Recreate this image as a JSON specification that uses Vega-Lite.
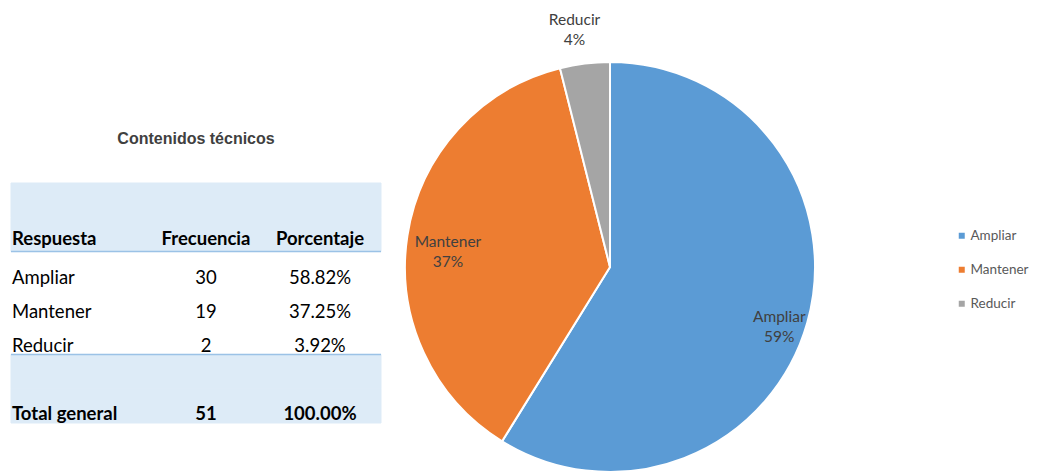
{
  "$schema": "https://vega.github.io/schema/vega-lite/v6.json",
  "background": "white",
  "padding": {"left": 10, "top": 0, "right": 0, "bottom": 0},
  "spacing": 0,
  "bounds": "flush",
  "config": {"view": {"stroke": null}, "font": "Lato"},
  "datasets": {
    "tabla": [
      {"Respuesta": "Ampliar", "Frecuencia": 30, "Porcentaje": 0.5882},
      {"Respuesta": "Mantener", "Frecuencia": 19, "Porcentaje": 0.3725},
      {"Respuesta": "Reducir", "Frecuencia": 2, "Porcentaje": 0.0392},
      {"Respuesta": "Total general", "Frecuencia": 51, "Porcentaje": 1.0}
    ]
  },
  "hconcat": [
    {
      "width": 370,
      "height": 472,
      "layer": [
        {
          "data": {"values": [{"fila": "b1"}, {"fila": "encabezado"}, {"fila": "b2"}, {"fila": "Total general"}]},
          "mark": {"type": "rect", "color": "#DDEBF7", "stroke": "#DDEBF7", "strokeWidth": 1},
          "encoding": {
            "y": {"field": "fila", "type": "nominal", "axis": null,
                  "scale": {"domain": ["b1", "encabezado", "Ampliar", "Mantener", "Reducir", "b2", "Total general"], "range": [183, 423], "paddingInner": 0, "paddingOuter": 0}}
          }
        },
        {
          "data": {"values": [{"fila": "Ampliar"}, {"fila": "b2"}]},
          "mark": {"type": "rule", "color": "#9BC2E6", "strokeWidth": 1.5},
          "encoding": {
            "y": {"field": "fila", "type": "nominal", "bandPosition": 0, "axis": null,
                  "scale": {"domain": ["b1", "encabezado", "Ampliar", "Mantener", "Reducir", "b2", "Total general"], "range": [183, 423], "paddingInner": 0, "paddingOuter": 0}}
          }
        },
        {
          "data": {"values": [{"titulo": "Contenidos técnicos"}]},
          "mark": {"type": "text", "font": "Liberation Sans", "fontSize": 16, "fontWeight": "bold", "color": "#404040", "dy": -61},
          "encoding": {
            "y": {"datum": "b1", "axis": null,
                  "scale": {"domain": ["b1", "encabezado", "Ampliar", "Mantener", "Reducir", "b2", "Total general"], "range": [183, 423], "paddingInner": 0, "paddingOuter": 0}},
            "text": {"field": "titulo", "type": "nominal"}
          }
        },
        {
          "data": {"values": [{"col": "Respuesta"}, {"col": "Frecuencia"}, {"col": "Porcentaje"}]},
          "encoding": {
            "y": {"datum": "encabezado", "axis": null,
                  "scale": {"domain": ["b1", "encabezado", "Ampliar", "Mantener", "Reducir", "b2", "Total general"], "range": [183, 423], "paddingInner": 0, "paddingOuter": 0}},
            "x": {"field": "col", "type": "nominal", "axis": null,
                  "scale": {"domain": ["Respuesta", "Frecuencia", "Porcentaje"], "range": [81, 309], "padding": 0}},
            "text": {"field": "col", "type": "nominal"}
          },
          "layer": [
            {
              "transform": [{"filter": "datum.col === 'Respuesta'"}],
              "mark": {"type": "text", "align": "left", "dx": -80, "dy": 5, "fontSize": 18.5, "fontWeight": "bold", "color": "black"}
            },
            {
              "transform": [{"filter": "datum.col !== 'Respuesta'"}],
              "mark": {"type": "text", "align": "center", "dy": 5, "fontSize": 18.5, "fontWeight": "bold", "color": "black"}
            }
          ]
        },
        {
          "data": {"name": "tabla"},
          "transform": [{"filter": "datum.Respuesta !== 'Total general'"}],
          "encoding": {
            "y": {"field": "Respuesta", "type": "nominal", "axis": null,
                  "scale": {"domain": ["b1", "encabezado", "Ampliar", "Mantener", "Reducir", "b2", "Total general"], "range": [183, 423], "paddingInner": 0, "paddingOuter": 0}}
          },
          "layer": [
            {
              "mark": {"type": "text", "align": "left", "dx": -80, "dy": 9, "fontSize": 18.5, "color": "black"},
              "encoding": {
                "x": {"datum": "Respuesta", "axis": null, "scale": {"domain": ["Respuesta", "Frecuencia", "Porcentaje"], "range": [81, 309], "padding": 0}},
                "text": {"field": "Respuesta", "type": "nominal"}
              }
            },
            {
              "mark": {"type": "text", "align": "center", "dy": 9, "fontSize": 18.5, "color": "black"},
              "encoding": {
                "x": {"datum": "Frecuencia", "axis": null, "scale": {"domain": ["Respuesta", "Frecuencia", "Porcentaje"], "range": [81, 309], "padding": 0}},
                "text": {"field": "Frecuencia", "type": "quantitative"}
              }
            },
            {
              "mark": {"type": "text", "align": "center", "dy": 9, "fontSize": 18.5, "color": "black"},
              "encoding": {
                "x": {"datum": "Porcentaje", "axis": null, "scale": {"domain": ["Respuesta", "Frecuencia", "Porcentaje"], "range": [81, 309], "padding": 0}},
                "text": {"field": "Porcentaje", "type": "quantitative", "format": ".2%"}
              }
            }
          ]
        },
        {
          "data": {"name": "tabla"},
          "transform": [{"filter": "datum.Respuesta === 'Total general'"}],
          "encoding": {
            "y": {"field": "Respuesta", "type": "nominal", "axis": null,
                  "scale": {"domain": ["b1", "encabezado", "Ampliar", "Mantener", "Reducir", "b2", "Total general"], "range": [183, 423], "paddingInner": 0, "paddingOuter": 0}}
          },
          "layer": [
            {
              "mark": {"type": "text", "align": "left", "dx": -80, "dy": 8, "fontSize": 18.5, "fontWeight": "bold", "color": "black"},
              "encoding": {
                "x": {"datum": "Respuesta", "axis": null, "scale": {"domain": ["Respuesta", "Frecuencia", "Porcentaje"], "range": [81, 309], "padding": 0}},
                "text": {"field": "Respuesta", "type": "nominal"}
              }
            },
            {
              "mark": {"type": "text", "align": "center", "dy": 8, "fontSize": 18.5, "fontWeight": "bold", "color": "black"},
              "encoding": {
                "x": {"datum": "Frecuencia", "axis": null, "scale": {"domain": ["Respuesta", "Frecuencia", "Porcentaje"], "range": [81, 309], "padding": 0}},
                "text": {"field": "Frecuencia", "type": "quantitative"}
              }
            },
            {
              "mark": {"type": "text", "align": "center", "dy": 8, "fontSize": 18.5, "fontWeight": "bold", "color": "black"},
              "encoding": {
                "x": {"datum": "Porcentaje", "axis": null, "scale": {"domain": ["Respuesta", "Frecuencia", "Porcentaje"], "range": [81, 309], "padding": 0}},
                "text": {"field": "Porcentaje", "type": "quantitative", "format": ".2%"}
              }
            }
          ]
        }
      ]
    },
    {
      "spacing": 0,
      "bounds": "flush",
      "vconcat": [
        {
          "width": 458,
          "height": 62,
          "data": {"values": [{"vacio": ""}]},
          "mark": {"type": "text"},
          "encoding": {"text": {"field": "vacio", "type": "nominal"}}
        },
        {
          "width": 458,
          "height": 410,
          "data": {"name": "tabla"},
          "transform": [
            {"filter": "datum.Respuesta !== 'Total general'"},
            {"calculate": "datum.Respuesta + '\\n' + format(datum.Porcentaje, '.0%')", "as": "etiqueta"}
          ],
          "encoding": {
            "theta": {"field": "Frecuencia", "type": "quantitative", "stack": true}
          },
          "layer": [
            {
              "mark": {"type": "arc", "outerRadius": 205, "stroke": "white", "strokeWidth": 2},
              "encoding": {
                "color": {
                  "field": "Respuesta", "type": "nominal",
                  "scale": {"domain": ["Ampliar", "Mantener", "Reducir"], "range": ["#5B9BD5", "#ED7D31", "#A5A5A5"]},
                  "legend": {
                    "title": null, "orient": "none", "legendX": 944, "legendY": 229,
                    "symbolType": "square", "symbolSize": 36, "symbolStrokeWidth": 0,
                    "labelFontSize": 13.5, "labelColor": "#595959", "labelFont": "Lato",
                    "rowPadding": 19, "labelOffset": 2, "padding": 0
                  }
                }
              }
            },
            {
              "mark": {"type": "text", "radius": 176, "fontSize": 15.5, "color": "#404040", "lineBreak": "\n", "lineHeight": 20, "dy": 2},
              "encoding": {
                "detail": {"field": "Respuesta", "type": "nominal"},
                "text": {"condition": {"test": "datum.Respuesta === 'Ampliar'", "field": "etiqueta", "type": "nominal"}, "value": ""}
              }
            },
            {
              "mark": {"type": "text", "radius": 164, "fontSize": 15.5, "color": "#404040", "lineBreak": "\n", "lineHeight": 20, "dy": 0},
              "encoding": {
                "detail": {"field": "Respuesta", "type": "nominal"},
                "text": {"condition": {"test": "datum.Respuesta === 'Mantener'", "field": "etiqueta", "type": "nominal"}, "value": ""}
              }
            },
            {
              "mark": {"type": "text", "radius": 240, "fontSize": 15.5, "color": "#404040", "lineBreak": "\n", "lineHeight": 20, "dx": -6, "dy": -9},
              "encoding": {
                "detail": {"field": "Respuesta", "type": "nominal"},
                "text": {"condition": {"test": "datum.Respuesta === 'Reducir'", "field": "etiqueta", "type": "nominal"}, "value": ""}
              }
            }
          ]
        }
      ]
    }
  ]
}
